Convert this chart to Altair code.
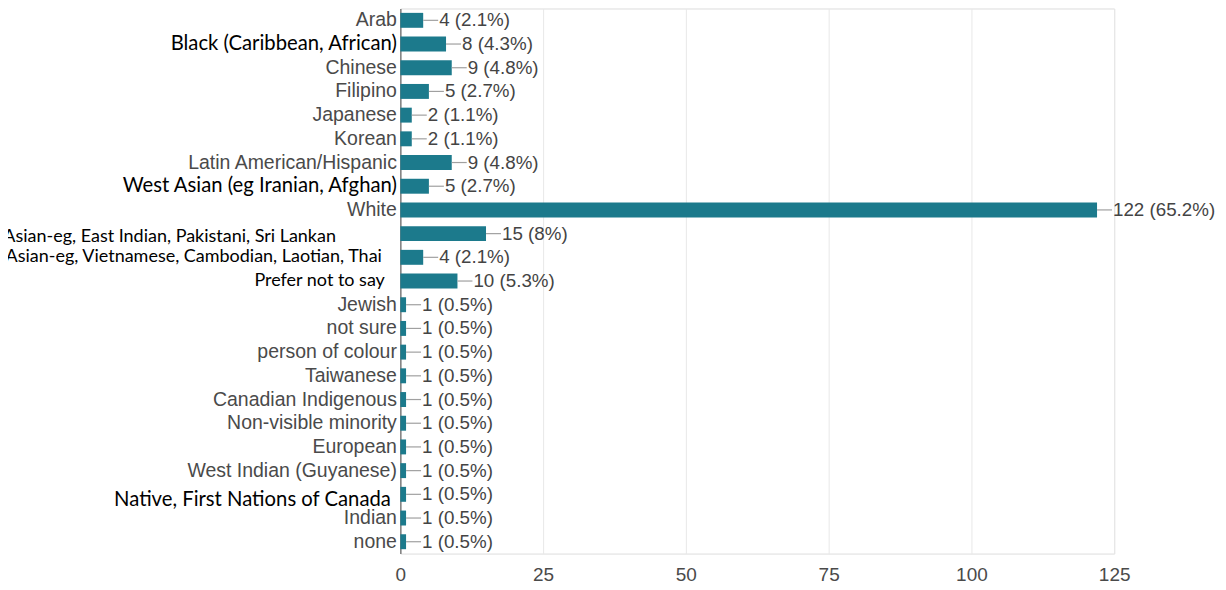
import altair as alt
import pandas as pd

categories = [
    "Arab", "Black (Caribbean, African)", "Chinese", "Filipino", "Japanese", "Korean",
    "Latin American/Hispanic", "West Asian (eg Iranian, Afghan)", "White",
    "South Asian-eg, East Indian, Pakistani, Sri Lankan",
    "Southeast Asian-eg, Vietnamese, Cambodian, Laotian, Thai",
    "Prefer not to say", "Jewish", "not sure", "person of colour", "Taiwanese",
    "Canadian Indigenous", "Non-visible minority", "European", "West Indian (Guyanese)",
    "Native, First Nations of Canada", "Indian", "none",
]
counts = [4, 8, 9, 5, 2, 2, 9, 5, 122, 15, 4, 10, 1, 1, 1, 1, 1, 1, 1, 1, 1, 1, 1]
percents = ["2.1", "4.3", "4.8", "2.7", "1.1", "1.1", "4.8", "2.7", "65.2", "8", "2.1", "5.3",
            "0.5", "0.5", "0.5", "0.5", "0.5", "0.5", "0.5", "0.5", "0.5", "0.5", "0.5"]
x_ticks = [0, 25, 50, 75, 100, 125]

big_serif_like = ["Black (Caribbean, African)", "West Asian (eg Iranian, Afghan)",
                  "Native, First Nations of Canada"]
small_serif_like = ["South Asian-eg, East Indian, Pakistani, Sri Lankan",
                    "Southeast Asian-eg, Vietnamese, Cambodian, Laotian, Thai",
                    "Prefer not to say"]

df = pd.DataFrame({
    "group": categories,
    "count": counts,
    "label": [f"{c} ({p}%)" for c, p in zip(counts, percents)],
})


def in_list(lst):
    items = ",".join("'" + s.replace("'", "\\'") + "'" for s in lst)
    return f"indexof([{items}], datum.value) >= 0"


calibri = big_serif_like + small_serif_like

y_axis = alt.Axis(
    title=None,
    ticks=False,
    grid=False,
    domainColor="#666",
    domainWidth=1.2,
    labelLimit=800,
    labelFont={"condition": {"test": in_list(calibri), "value": "Lato"}, "value": "Liberation Sans"},
    labelColor={"condition": {"test": in_list(calibri), "value": "#000"}, "value": "#4a4a4a"},
    labelFontSize={"condition": [
        {"test": in_list(big_serif_like), "value": 20.3},
        {"test": in_list(small_serif_like), "value": 18},
    ], "value": 19.5},
    labelPadding={"condition": [
        {"test": "datum.value == 'Native, First Nations of Canada'", "value": 10},
        {"test": "datum.value == 'Prefer not to say'", "value": 16},
        {"test": "datum.value == 'South Asian-eg, East Indian, Pakistani, Sri Lankan'", "value": 65},
        {"test": "datum.value == 'Southeast Asian-eg, Vietnamese, Cambodian, Laotian, Thai'", "value": 19},
    ], "value": 4},
    labelOffset={"condition": [
        {"test": "datum.value == 'Native, First Nations of Canada'", "value": 6},
        {"test": "datum.value == 'South Asian-eg, East Indian, Pakistani, Sri Lankan'", "value": 3},
    ], "value": 0},
)

x_axis = alt.Axis(
    title=None,
    values=x_ticks,
    ticks=False,
    domain=False,
    gridColor="#e8e8e8",
    labelFont="Liberation Sans",
    labelFontSize=19,
    labelColor="#4a4a4a",
    labelPadding=12,
    labelFlush=False,
)

y_enc = alt.Y("group:N", sort=categories, axis=y_axis,
              scale=alt.Scale(paddingInner=0.37, paddingOuter=0.185))
x_scale = alt.Scale(domain=[0, 125], nice=False)

bars = alt.Chart(df).mark_bar(color="#1c7a8c").encode(
    x=alt.X("count:Q", scale=x_scale, axis=x_axis),
    y=y_enc,
)

stems = alt.Chart(df).mark_rule(color="#a0a0a0", strokeWidth=1.2, x2Offset=15).encode(
    x=alt.X("count:Q", scale=x_scale),
    x2=alt.X2("count"),
    y=alt.Y("group:N", sort=categories),
)

labels = alt.Chart(df).mark_text(
    align="left", baseline="middle", dx=16, font="Liberation Sans",
    fontSize=18.8, color="#444"
).encode(
    x=alt.X("count:Q", scale=x_scale),
    y=alt.Y("group:N", sort=categories),
    text="label:N",
)

chart = alt.layer(bars, stems, labels).properties(
    width=715,
    height=546,
    autosize=alt.AutoSizeParams(type="none"),
    padding={"left": 393, "top": 0, "right": 104, "bottom": 36},
).configure_view(stroke="#e4e4e4", strokeWidth=1.2).configure(background="white")

chart.save("out.html", embed_options={"renderer": "svg", "actions": False})
